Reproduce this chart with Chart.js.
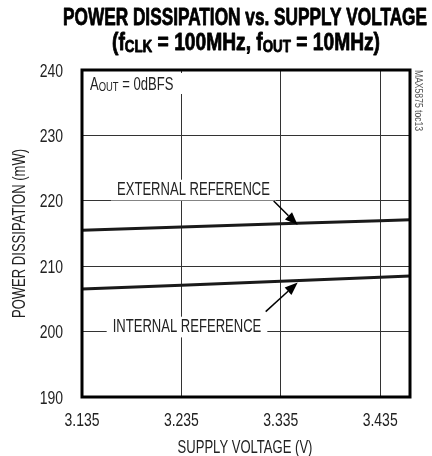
<!DOCTYPE html>
<html>
<head>
<meta charset="utf-8">
<script src="https://cdn.jsdelivr.net/npm/chart.js@4.4.1/dist/chart.umd.min.js"></script>
<style>
  html, body { margin: 0; padding: 0; background: #fff; }
  #wrap { width: 432px; height: 456px; }
</style>
</head>
<body>
<div id="wrap"><canvas id="c" width="432" height="456"></canvas></div>
<script>
// Supply voltage (V) sample points
const voltages = [3.135, 3.235, 3.335, 3.435, 3.465];
// Power dissipation (mW) with external reference
const externalRef = [215.5, 216.0, 216.5, 216.95, 217.1];
// Power dissipation (mW) with internal reference
const internalRef = [206.5, 207.1, 207.7, 208.3, 208.5];
// Axis ticks
const xTicks = [3.135, 3.235, 3.335, 3.435];
const yTicks = [190, 200, 210, 220, 230, 240];

const FACE = '"Liberation Sans", Arial, sans-serif';
const toPoints = (ys) => voltages.map((v, i) => ({ x: v, y: ys[i] }));

const TITLE_1 = [['POWER DISSIPATION vs. SUPPLY VOLTAGE', false]];
const TITLE_2 = [['(f', false], ['CLK', true], [' = 100MHz, f', false], ['OUT', true], [' = 10MHz)', false]];

// Width of a run of text pieces at a given size, before squeezing
function richWidth(ctx, parts, size, weight, subRatio) {
  return parts.reduce((acc, [t, sub]) => {
    ctx.font = `${weight} ${sub ? Math.round(size * subRatio) : size}px ${FACE}`;
    return acc + ctx.measureText(t).width;
  }, 0);
}

// Horizontal squeeze factors that give the narrow lettering
let SX_REG = 0.75, SX_TICK = 0.75, SX_T1 = 0.65, SX_T2 = 0.65;
function calibrate(ctx) {
  SX_REG = 153 / richWidth(ctx, [['EXTERNAL REFERENCE']], 18, 'normal', 1);
  SX_TICK = 35 / richWidth(ctx, [['3.135']], 18, 'normal', 1);
  SX_T1 = 364 / richWidth(ctx, TITLE_1, 23, 'bold', 0.7);
  SX_T2 = 268 / richWidth(ctx, TITLE_2, 23, 'bold', 0.7);
}

// Draws condensed text made of pieces: parts = [[text, isSub], ...]
function drawRich(ctx, parts, x, y, size, weight, align, sx, subRatio = 0.7, subDrop = 0, heavy = 0) {
  const widths = parts.map(([t, sub]) => {
    ctx.font = `${weight} ${sub ? Math.round(size * subRatio) : size}px ${FACE}`;
    return ctx.measureText(t).width * sx;
  });
  const total = widths.reduce((a, b) => a + b, 0);
  let cx = align === 'center' ? x - total / 2 : align === 'right' ? x - total : x;
  parts.forEach(([t, sub], i) => {
    ctx.save();
    ctx.font = `${weight} ${sub ? Math.round(size * subRatio) : size}px ${FACE}`;
    ctx.textAlign = 'left';
    ctx.textBaseline = 'alphabetic';
    ctx.translate(cx, sub ? y + subDrop : y);
    ctx.scale(sx, 1);
    ctx.fillText(t, 0, 0);
    if (heavy > 0) {
      ctx.strokeStyle = ctx.fillStyle;
      ctx.lineWidth = heavy;
      ctx.lineJoin = 'round';
      ctx.strokeText(t, 0, 0);
    }
    ctx.restore();
    cx += widths[i];
  });
  return total;
}
const drawText = (ctx, t, x, y, size, align, sx = SX_REG) => drawRich(ctx, [[t, false]], x, y, size, 'normal', align, sx);

function arrow(ctx, x0, y0, x1, y1) {
  const ang = Math.atan2(y1 - y0, x1 - x0);
  const len = 13, half = 5;
  const bx = x1 - len * Math.cos(ang), by = y1 - len * Math.sin(ang);
  ctx.strokeStyle = '#000';
  ctx.lineWidth = 1.5;
  ctx.beginPath();
  ctx.moveTo(x0, y0);
  ctx.lineTo(bx, by);
  ctx.stroke();
  ctx.fillStyle = '#000';
  ctx.beginPath();
  ctx.moveTo(x1, y1);
  ctx.lineTo(bx + half * Math.sin(ang), by - half * Math.cos(ang));
  ctx.lineTo(bx - half * Math.sin(ang), by + half * Math.cos(ang));
  ctx.closePath();
  ctx.fill();
}

function labelBox(ctx, text, cx, baseline, size) {
  ctx.font = `${size}px ${FACE}`;
  const w = ctx.measureText(text).width * SX_REG;
  ctx.fillStyle = '#fff';
  ctx.fillRect(cx - w / 2 - 6, baseline - size * 0.85, w + 12, size * 1.15);
  ctx.fillStyle = '#222';
  drawText(ctx, text, cx, baseline, size, 'center');
}

const decorations = {
  id: 'decorations',
  beforeDraw(chart) { calibrate(chart.ctx); },
  afterDatasetsDraw(chart) {
    const { ctx, chartArea: a, scales: { x, y } } = chart;
    ctx.save();

    // Tick labels, placed through the scales
    ctx.fillStyle = '#222';
    yTicks.forEach(v => drawText(ctx, String(v), a.left - 19, y.getPixelForValue(v) + 6.5, 18, 'right', SX_TICK));
    xTicks.forEach(v => drawText(ctx, v.toFixed(3), x.getPixelForValue(v), 426, 18, 'center', SX_TICK));

    // Annotation labels with arrows pointing to each curve
    const tipX = x.getPixelForValue(3.352);
    const extTipY = y.getPixelForValue(216.6);
    const intTipY = y.getPixelForValue(207.8);

    labelBox(ctx, 'EXTERNAL REFERENCE', 193.5, 195, 18);
    arrow(ctx, tipX - 24, extTipY - 22, tipX, extTipY + 2);

    labelBox(ctx, 'INTERNAL REFERENCE', 187, 332, 18);
    arrow(ctx, tipX - 32, intTipY + 31, tipX, intTipY + 2);

    // Condition label in the top-left corner
    ctx.fillStyle = '#fff';
    ctx.fillRect(a.left + 3, a.top + 3, 99, 21);
    ctx.fillStyle = '#222';
    drawRich(ctx, [['A', false], ['OUT', true], [' = 0dBFS', false]], a.left + 8, a.top + 20, 18, 'normal', 'left', SX_REG, 0.72, 0.5);

    // Plot frame
    ctx.strokeStyle = '#000';
    ctx.lineWidth = 3;
    ctx.strokeRect(a.left, a.top, a.right - a.left, a.bottom - a.top);

    // Chart heading
    ctx.fillStyle = '#000';
    drawRich(ctx, TITLE_1, 245, 25, 23, 'bold', 'center', SX_T1, 0.7, 0, 0.8);
    drawRich(ctx, TITLE_2, 246, 50, 23, 'bold', 'center', SX_T2, 0.7, 2, 0.8);

    // Axis titles
    ctx.fillStyle = '#222';
    drawText(ctx, 'SUPPLY VOLTAGE (V)', 245, 453, 18, 'center');
    ctx.save();
    ctx.translate(25, 233.5);
    ctx.rotate(-Math.PI / 2);
    drawText(ctx, 'POWER DISSIPATION (mW)', 0, 0, 18, 'center');
    ctx.restore();

    // Figure code on the right edge
    ctx.save();
    ctx.translate(415, 70);
    ctx.rotate(Math.PI / 2);
    ctx.fillStyle = '#555';
    drawRich(ctx, [['MAX5875 toc13', false]], 0, 0, 11, 'normal', 'left', 0.78);
    ctx.restore();

    ctx.restore();
  }
};

new Chart(document.getElementById('c'), {
  type: 'line',
  data: {
    datasets: [
      { label: 'EXTERNAL REFERENCE', data: toPoints(externalRef), borderColor: '#1a1a1a', borderWidth: 3, pointRadius: 0, tension: 0 },
      { label: 'INTERNAL REFERENCE', data: toPoints(internalRef), borderColor: '#1a1a1a', borderWidth: 3, pointRadius: 0, tension: 0 }
    ]
  },
  options: {
    responsive: false,
    animation: false,
    devicePixelRatio: 1,
    layout: { padding: { left: 0, top: 70, right: 22, bottom: 0 } },
    plugins: { legend: { display: false }, tooltip: { enabled: false }, title: { display: false } },
    scales: {
      x: {
        type: 'linear',
        min: 3.135,
        max: 3.465,
        afterBuildTicks: (s) => { s.ticks = xTicks.map(v => ({ value: v })); },
        afterFit: (s) => { s.height = 59; },
        ticks: { display: false },
        grid: { color: '#333', lineWidth: 1, drawTicks: false },
        border: { display: false }
      },
      y: {
        type: 'linear',
        min: 190,
        max: 240,
        afterBuildTicks: (s) => { s.ticks = yTicks.map(v => ({ value: v })); },
        afterFit: (s) => { s.width = 82; },
        ticks: { display: false },
        grid: { color: '#333', lineWidth: 1, drawTicks: false },
        border: { display: false }
      }
    }
  },
  plugins: [decorations]
});
</script>
</body>
</html>
